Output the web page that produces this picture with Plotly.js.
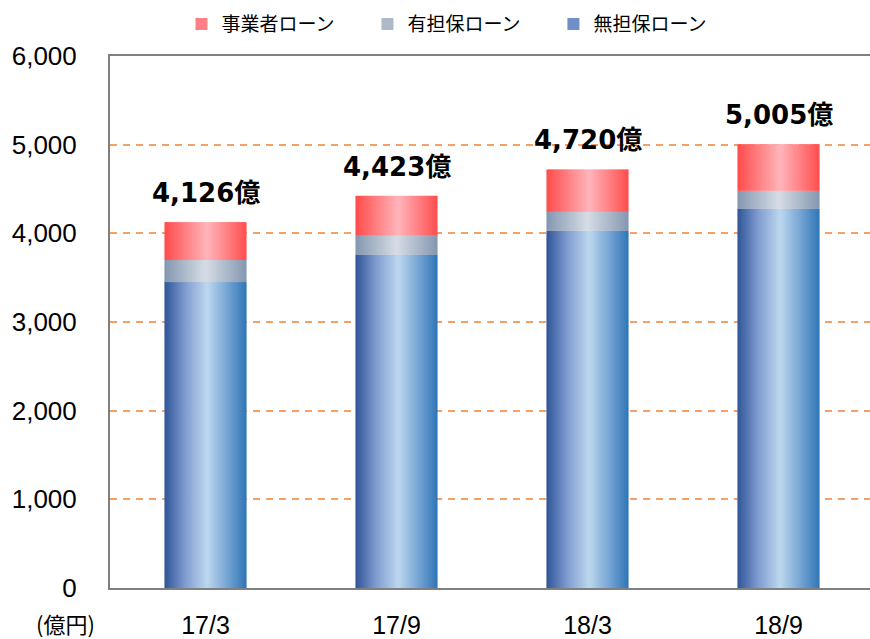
<!DOCTYPE html>
<html><head><meta charset="utf-8">
<script src="https://cdn.plot.ly/plotly-3.0.1.min.js"></script>
<style>html,body{margin:0;padding:0;background:#fff}</style>
</head><body>
<div id="chart" style="width:870px;height:639px"></div>
<script>
// ---- data ----
const categories = ['17/3', '17/9', '18/3', '18/9'];
const unsecured  = [3450, 3756, 4027, 4276];   // 無担保ローン
const secured    = [249, 218, 215, 204];       // 有担保ローン
const business   = [427, 449, 478, 525];       // 事業者ローン
const seriesNames = ['事業者ローン', '有担保ローン', '無担保ローン'];
const unitLabel = '(億円)';

// ---- styling ----
const FONT_NUM = 'Liberation Sans, Arial, Noto Sans CJK JP, sans-serif';
const FONT_LBL = 'DejaVu Sans, Noto Sans CJK JP, sans-serif';
const FONT_JP = 'Noto Sans CJK JP, sans-serif';
const BAR_W = 0.43;
const NSTRIP = 60;

function hex2rgb(h){return [parseInt(h.slice(1,3),16),parseInt(h.slice(3,5),16),parseInt(h.slice(5,7),16)];}
function grad(stops, t){
  for (let i=0;i<stops.length-1;i++){
    const [p0,c0]=stops[i],[p1,c1]=stops[i+1];
    if (t>=p0 && t<=p1){
      const f=(t-p0)/(p1-p0), a=hex2rgb(c0), b=hex2rgb(c1);
      return 'rgb('+a.map((v,k)=>Math.round(v+(b[k]-v)*f)).join(',')+')';
    }
  }
  return stops[stops.length-1][1];
}
const gradBlue = [[0,'#2F5597'],[0.25,'#7F9BD0'],[0.52,'#BDD7EE'],[0.8,'#6C9ED0'],[1,'#2E75B6']];
const gradGrey = [[0,'#8497B0'],[0.5,'#D6DCE5'],[1,'#8497B0']];
const gradRed  = [[0,'#FF4B4B'],[0.52,'#FFB5BB'],[1,'#FF4D4D']];

const base0 = unsecured.map(()=>0);
const base1 = unsecured.slice();
const base2 = unsecured.map((v,i)=>v+secured[i]);
const totals = unsecured.map((v,i)=>v+secured[i]+business[i]);

const traces = [];
function addStrips(vals, bases, stops, name){
  const dw = BAR_W / NSTRIP;
  for (let s=0;s<NSTRIP;s++){
    const t = (s+0.5)/NSTRIP;
    const last = s===NSTRIP-1;
    traces.push({
      type:'bar', x:categories, y:vals, base:bases,
      width: categories.map(()=> last ? dw : dw*1.6),
      offset: categories.map(()=>-BAR_W/2 + s*dw),
      marker:{color:grad(stops,t), line:{width:0}},
      showlegend:false, hoverinfo:'skip', name:name
    });
  }
}
addStrips(unsecured, base0, gradBlue, seriesNames[2]);
addStrips(secured, base1, gradGrey, seriesNames[1]);
addStrips(business, base2, gradRed, seriesNames[0]);

// legend entries
[[seriesNames[0],'#FF7F85',1],[seriesNames[1],'#AEB9C9',2],[seriesNames[2],'#6F8FC6',3]].forEach(([n,c,r])=>{
  traces.push({type:'bar', x:[null], y:[null], name:n, marker:{color:c}, legendrank:r, showlegend:true});
});

const annotations = categories.map((c,i)=>({
  x:c, y:totals[i], xref:'x', yref:'y',
  text:'<b>'+totals[i].toLocaleString('en-US')+'億</b>',
  showarrow:false, yanchor:'bottom', yshift:12,
  font:{family:FONT_LBL, size:26, color:'#000'}
}));
annotations.push({
  xref:'paper', yref:'paper', x:-0.058, y:-0.066, text:unitLabel, showarrow:false,
  xanchor:'center', yanchor:'middle', borderpad:0, font:{family:FONT_JP, size:22, color:'#000'}
});

const layout = {
  width:870, height:639,
  margin:{l:110, r:0, t:56, b:51},
  paper_bgcolor:'#fff', plot_bgcolor:'#fff',
  barmode:'overlay',
  showlegend:true,
  legend:{orientation:'h', x:0.094, xanchor:'left', y:1.06, yanchor:'middle',
          entrywidth:141, entrywidthmode:'pixels', traceorder:'normal',
          font:{family:FONT_JP, size:19, color:'#000'}},
  xaxis:{type:'category', categoryorder:'array', categoryarray:categories,
         range:[-0.5, 3.479], showline:true, mirror:true, linecolor:'#7F7F7F', linewidth:2,
         ticks:'', ticklabelstandoff:14, showgrid:false, zeroline:false,
         tickfont:{family:FONT_NUM, size:25, color:'#000'}},
  yaxis:{range:[0,6000], dtick:1000, tickformat:',d', showline:true, linecolor:'#7F7F7F', linewidth:2,
         ticks:'', ticklabelstandoff:26, showgrid:true, gridcolor:'#F4A066', gridwidth:2,
         griddash:'7px,6px', zeroline:false,
         tickfont:{family:FONT_NUM, size:26, color:'#000'}},
  annotations:annotations
};
Plotly.newPlot('chart', traces, layout, {displayModeBar:false, staticPlot:true});
</script>
</body></html>
